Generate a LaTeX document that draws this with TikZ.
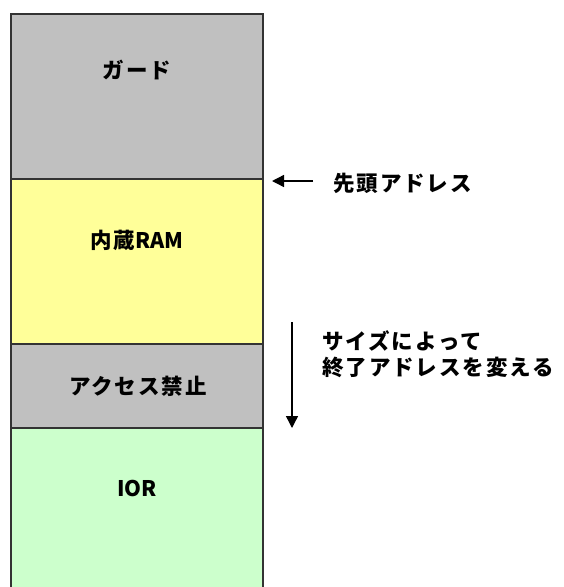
\documentclass[tikz,border=0pt]{standalone}
\usepackage{fontspec}
\newfontfamily\jp[LetterSpace=9]{Noto Sans CJK JP}
\newfontfamily\lat{Noto Sans CJK JP}
\usetikzlibrary{arrows.meta}
\definecolor{guardgray}{HTML}{C0C0C0}
\definecolor{ramyellow}{HTML}{FFFF99}
\definecolor{iorgreen}{HTML}{CCFFCC}
\definecolor{edge}{HTML}{333333}
\tikzset{
  block/.style={draw=edge, line width=1.3pt, anchor=north west, minimum width=252pt, inner sep=0pt, outer sep=0pt},
  lbl/.style={font=\jp\bfseries\fontsize{21.5}{26}\selectfont, inner sep=0pt, text=black},
  pointer/.style={line width=1.4pt, -{Triangle[length=12pt,width=12pt]}},
}
\begin{document}
\begin{tikzpicture}[x=1pt,y=-1pt]
\useasboundingbox (0,0) rectangle (563,587);
\node[block, fill=iorgreen, minimum height=200pt] (ior) at (11,428) {};
\node[block, fill=guardgray, minimum height=165pt] (guard) at (11,14) {};
\node[block, fill=ramyellow, minimum height=165pt] (ram) at (11,179) {};
\node[block, fill=guardgray, minimum height=84pt] (deny) at (11,344) {};
\node[lbl] (tguard) at (137,70) {ガード};
\node[lbl] (tram) at (137,240) {内蔵{\lat\bfseries RAM}};
\node[lbl] (tdeny) at (138,386) {アクセス禁止};
\node[lbl] (tior) at (137,488) {\lat\bfseries IOR};
\coordinate (hs) at (313,181);
\coordinate (he) at (272,181);
\draw[pointer] (hs) -- (he);
\node[lbl, anchor=west] (thead) at (333,183) {先頭アドレス};
\coordinate (es) at (292,322);
\coordinate (ee) at (292,428);
\draw[pointer] (es) -- (ee);
\node[lbl, anchor=west, align=left] (tend) at (322,354) {サイズによって\\終了アドレスを変える};
\end{tikzpicture}
\end{document}
